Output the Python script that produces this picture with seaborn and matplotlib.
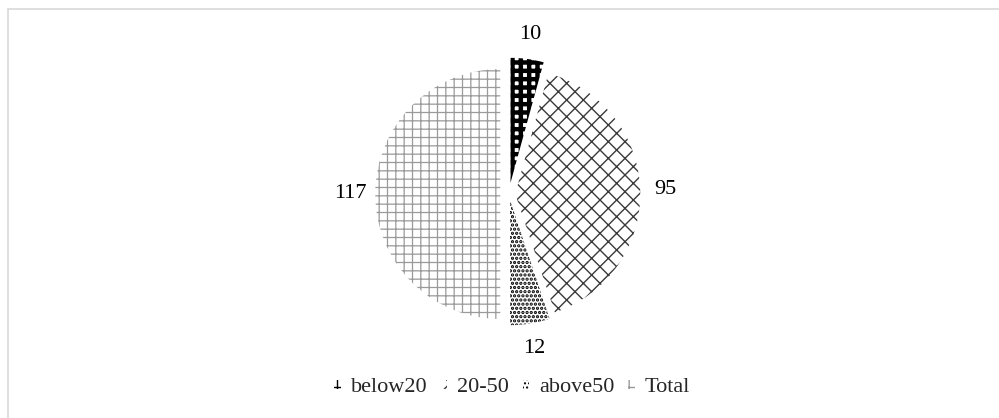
import matplotlib
matplotlib.use("Agg")
import matplotlib.pyplot as plt
import seaborn as sns
from matplotlib.patches import Rectangle

categories = ["below20", "20-50", "above50", "Total"]
values = [10, 95, 12, 117]
value_labels = ["10", "95", "12", "117"]

sns.set_theme(style="white")
plt.rcParams['font.family'] = ['Liberation Serif', 'DejaVu Serif']

W, H = 999, 418
fig = plt.figure(figsize=(W / 100, H / 100), dpi=100)
fig.patch.set_facecolor("white")

# border
fig.add_artist(Rectangle((8 / W, -0.05), 1.2, (H - 9) / H + 0.05, transform=fig.transFigure,
                         fill=False, edgecolor="#d9d9d9", linewidth=1.2))

cx, cy, R = 509, 224, 125
half = 1.5 * R
ax = fig.add_axes([(cx - half) / W, (cy - half) / H, 2 * half / W, 2 * half / H])

hatches = ["++", "xx", "....", "++"]
hcolors = ["black", "#3a3a3a", "black", "#9a9a9a"]
hlw = [3.2, 1.0, 1.6, 0.9]
explode = [0.09, 0.05, 0.05, 0.07]

wedges, texts = ax.pie(values, labels=value_labels, startangle=90, counterclock=False,
                       explode=explode, radius=1, labeldistance=1.2,
                       textprops=dict(fontsize=16, color="black"))
for w, h, c, lw in zip(wedges, hatches, hcolors, hlw):
    w.set_facecolor("white")
    w.set_edgecolor(c)
    w.set_linewidth(0)
    w.set_hatch(h)
    try:
        w.set_hatch_linewidth(lw)
    except Exception:
        pass
for t in texts:
    t.set_horizontalalignment("center")
    t.set_verticalalignment("center")

ax.set_xlim(-1.5, 1.5)
ax.set_ylim(-1.5, 1.5)
ax.set_aspect("equal")
ax.axis("off")

fig.legend(wedges, categories, loc="center", bbox_to_anchor=(512 / W, 1 - 388 / H),
           ncol=4, frameon=False, fontsize=16, handlelength=0.3, handleheight=0.3,
           handletextpad=0.45, columnspacing=0.6)

fig.savefig("out.png", dpi=100, facecolor="white")
